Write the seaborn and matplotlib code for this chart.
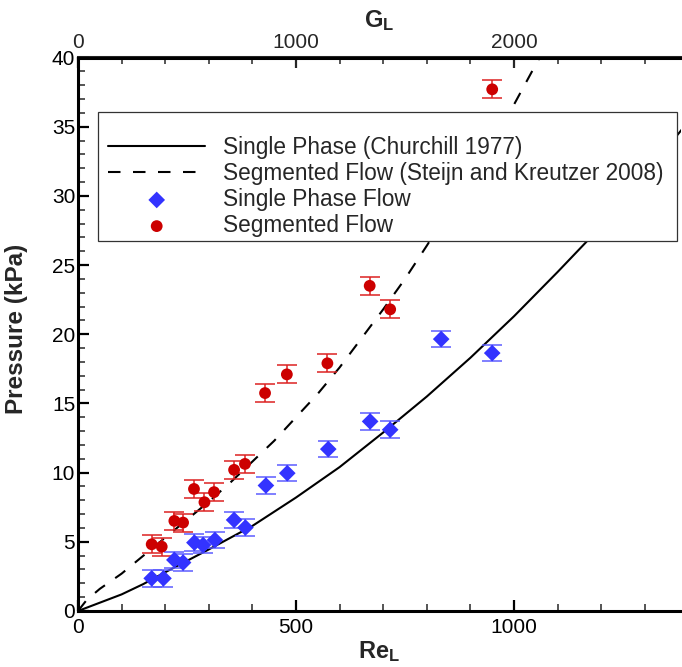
import matplotlib
matplotlib.use("Agg")
import numpy as np
import pandas as pd
import matplotlib.pyplot as plt
from matplotlib.patches import Rectangle
from matplotlib.ticker import MultipleLocator
import seaborn as sns

# Correlation curves (Re_L vs kPa)
re_churchill = [0, 50, 100, 150, 200, 300, 400, 500, 600, 700, 800, 900, 1000, 1100, 1200, 1300, 1385]
p_churchill = [0, 0.6, 1.2, 1.95, 2.8, 4.45, 6.15, 8.2, 10.4, 12.9, 15.5, 18.3, 21.3, 24.5, 27.8, 31.5, 34.8]

re_steijn = [0, 20, 50, 100, 150, 200, 250, 300, 350, 400, 450, 500, 550, 600, 650, 700, 750, 800, 850, 900, 950, 1000, 1050, 1070]
p_steijn = [0, 0.8, 1.6, 2.7, 4.0, 5.3, 6.6, 7.9, 9.3, 10.8, 12.3, 14.0, 15.7, 17.6, 19.7, 21.8, 24.0, 26.4, 28.9, 31.4, 33.9, 36.6, 39.5, 40.6]

# Measured points
re_single = [169, 196, 221, 241, 267, 287, 314, 358, 384, 431, 480, 574, 670, 716, 833, 950]
p_single = [2.36, 2.36, 3.69, 3.5, 4.94, 4.77, 5.13, 6.58, 6.03, 9.07, 9.96, 11.7, 13.7, 13.1, 19.65, 18.64]
err_single = 0.6

re_seg = [169, 192, 221, 241, 266, 290, 312, 358, 383, 429, 479, 572, 669, 716, 950]
p_seg = [4.82, 4.65, 6.51, 6.39, 8.82, 7.86, 8.59, 10.2, 10.63, 15.75, 17.1, 17.9, 23.5, 21.8, 37.7]
err_seg = 0.65

blue = '#3333ff'
blue_err = '#5c5cff'
red = '#cc0000'
red_err = '#dd2222'

sns.set_style("white")
plt.rcParams['font.family'] = ['Liberation Sans', 'DejaVu Sans']
plt.rcParams['mathtext.fontset'] = 'custom'
plt.rcParams['mathtext.bf'] = 'Liberation Sans:bold'
plt.rcParams['mathtext.rm'] = 'Liberation Sans'

fig = plt.figure(figsize=(6.82, 6.67), dpi=100)
ax = fig.add_axes([78 / 682, 56 / 667, 603 / 682, 553.5 / 667])

churchill_df = pd.DataFrame({'Re': re_churchill, 'P': p_churchill})
steijn_df = pd.DataFrame({'Re': re_steijn, 'P': p_steijn})
single_df = pd.DataFrame({'Re': re_single, 'P': p_single})
seg_df = pd.DataFrame({'Re': re_seg, 'P': p_seg})

sns.lineplot(data=churchill_df, x='Re', y='P', ax=ax, color='black', lw=1.5,
             label='Single Phase (Churchill 1977)', zorder=2)
sns.lineplot(data=steijn_df, x='Re', y='P', ax=ax, color='black', lw=1.5,
             linestyle=(0, (6, 6)), label='Segmented Flow (Steijn and Kreutzer 2008)', zorder=2)

ax.errorbar(single_df['Re'], single_df['P'], yerr=err_single, fmt='none', ecolor=blue_err,
            elinewidth=1.1, capsize=7.2, capthick=1.1, zorder=3)
ax.errorbar(seg_df['Re'], seg_df['P'], yerr=err_seg, fmt='none', ecolor=red_err,
            elinewidth=1.1, capsize=7.2, capthick=1.1, zorder=3)
sns.scatterplot(data=single_df, x='Re', y='P', ax=ax, marker='D', s=72, color=blue,
                edgecolor='none', linewidth=0, label='Single Phase Flow', zorder=4)
sns.scatterplot(data=seg_df, x='Re', y='P', ax=ax, marker='o', s=72, color=red,
                edgecolor='none', linewidth=0, label='Segmented Flow', zorder=4)

ax.set_xlim(0, 1383)
ax.set_ylim(0, 40)
ax.set_xticks([0, 500, 1000])
ax.xaxis.set_minor_locator(MultipleLocator(100))
ax.set_yticks([0, 5, 10, 15, 20, 25, 30, 35, 40])
ax.yaxis.set_minor_locator(MultipleLocator(1))
ax.tick_params(which='both', direction='in', top=False, right=False, bottom=True, left=True)
ax.tick_params(which='major', length=8, width=1.6, labelsize=15, colors='black')
ax.tick_params(axis='x', which='major', pad=5)
ax.tick_params(axis='y', which='major', pad=2)
ax.tick_params(which='minor', length=4.8, width=1.1)
for side in ['left', 'bottom', 'top']:
    ax.spines[side].set_linewidth(2.2)
    ax.spines[side].set_color('black')
ax.spines['right'].set_visible(False)

ax.set_xlabel(r'$\mathbf{Re_L}$', fontsize=17)
ax.xaxis.set_label_coords(0.5, -0.05)
ax.set_ylabel('Pressure (kPa)', fontsize=17.5, fontweight='bold')
ax.yaxis.set_label_coords(-0.083, 0.51)

secax = ax.secondary_xaxis('top', functions=(lambda x: 2 * x, lambda x: x / 2))
secax.set_xticks([0, 1000, 2000])
secax.xaxis.set_minor_locator(MultipleLocator(200))
secax.tick_params(which='both', direction='in')
secax.tick_params(which='major', length=8, width=1.6, labelsize=15, pad=4)
secax.tick_params(which='minor', length=4.8, width=1.1)
secax.spines['top'].set_linewidth(2.2)
secax.set_xlabel(r'$\mathbf{G_L}$', fontsize=17, labelpad=4)

# legend with a square white frame
frame = Rectangle((0.0332, 0.6685), 0.9602, 0.233, transform=ax.transAxes,
                  facecolor='white', edgecolor='#333333', lw=0.9, zorder=5)
ax.add_patch(frame)
handles, labels = ax.get_legend_handles_labels()
leg = ax.legend(handles, labels, loc='upper left', bbox_to_anchor=(0.0498, 0.859),
                borderaxespad=0, borderpad=0, frameon=False, fontsize=16.3,
                handlelength=4.3, handletextpad=0.8, labelspacing=0.14)
leg.set_zorder(6)

plt.savefig('out.png', dpi=100)
